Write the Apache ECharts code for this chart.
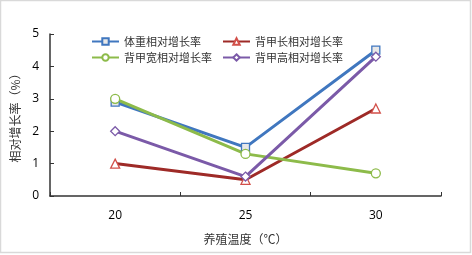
<!DOCTYPE html>
<html><head><meta charset="utf-8">
<script src="https://cdn.jsdelivr.net/npm/echarts@6/dist/echarts.min.js"></script>
<style>html,body{margin:0;padding:0;background:#fff}#c{width:472px;height:255px}</style>
</head><body><div id="c"></div>
<script>
const categories = ['20', '25', '30'];
const weight = [2.9, 1.5, 4.5];
const carapaceLength = [1.0, 0.5, 2.7];
const carapaceWidth = [3.0, 1.3, 0.7];
const carapaceHeight = [2.0, 0.6, 4.3];
const yTicks = [0, 1, 2, 3, 4, 5];

const chart = echarts.init(document.getElementById('c'));
const cjk = '"Noto Sans CJK SC", sans-serif';
const num = '"Open Sans", "DejaVu Sans", sans-serif';
function s(name, data, color, symbol, fill, size, border) {
  return {
    name, type: 'line', data, symbol, symbolSize: size,
    lineStyle: {color, width: 3},
    itemStyle: {color: fill, borderColor: border || color, borderWidth: 1.3},
    emphasis: {disabled: true}
  };
}
const legText = {fontFamily: cjk, fontSize: 11, color: '#333'};
chart.setOption({
  animation: false,
  graphic: [{type: 'rect', shape: {x: 0.5, y: 0.5, width: 470, height: 252}, style: {fill: 'none', stroke: '#d9d9d9', lineWidth: 1.5}}],
  grid: {left: 50, right: 31, top: 34, bottom: 59},
  legend: [
    {left: 91, top: 36, padding: 0, orient: 'vertical', itemGap: 5, itemWidth: 27, itemHeight: 8,
     data: ['体重相对增长率', '背甲宽相对增长率'], textStyle: legText},
    {left: 222, top: 36, padding: 0, orient: 'vertical', itemGap: 5, itemWidth: 27, itemHeight: 8,
     data: ['背甲长相对增长率', '背甲高相对增长率'], textStyle: legText}
  ],
  xAxis: {
    type: 'category', data: categories, boundaryGap: true,
    name: '养殖温度（℃）', nameLocation: 'middle', nameGap: 37,
    nameTextStyle: {fontFamily: cjk, fontSize: 12, color: '#333'},
    axisLine: {lineStyle: {color: '#333', width: 1.5}},
    axisTick: {show: true, length: 4, inside: true, lineStyle: {color: '#333'}},
    axisLabel: {fontFamily: num, fontSize: 12, color: '#000', margin: 14}
  },
  yAxis: {
    type: 'value', min: 0, max: 5, interval: 1,
    name: '相对增长率（%）', nameLocation: 'middle', nameGap: 28, nameRotate: 90,
    nameTextStyle: {fontFamily: cjk, fontSize: 12, color: '#333'},
    axisLine: {show: true, lineStyle: {color: '#333', width: 1.5}},
    axisTick: {show: true, length: 4, inside: true, lineStyle: {color: '#333'}},
    splitLine: {show: false},
    axisLabel: {fontFamily: num, fontSize: 12, color: '#000', margin: 11,
      formatter: v => yTicks.includes(v) ? String(v) : ''}
  },
  series: [
    s('体重相对增长率', weight, '#4077BF', 'rect', '#e8e8e8', 8),
    s('背甲长相对增长率', carapaceLength, '#9E2A27', 'triangle', '#fff', 9, '#D2504A'),
    s('背甲宽相对增长率', carapaceWidth, '#8DBB4A', 'circle', '#fff', 9),
    s('背甲高相对增长率', carapaceHeight, '#7B5AA8', 'diamond', '#fff', 9)
  ]
});
</script></body></html>
